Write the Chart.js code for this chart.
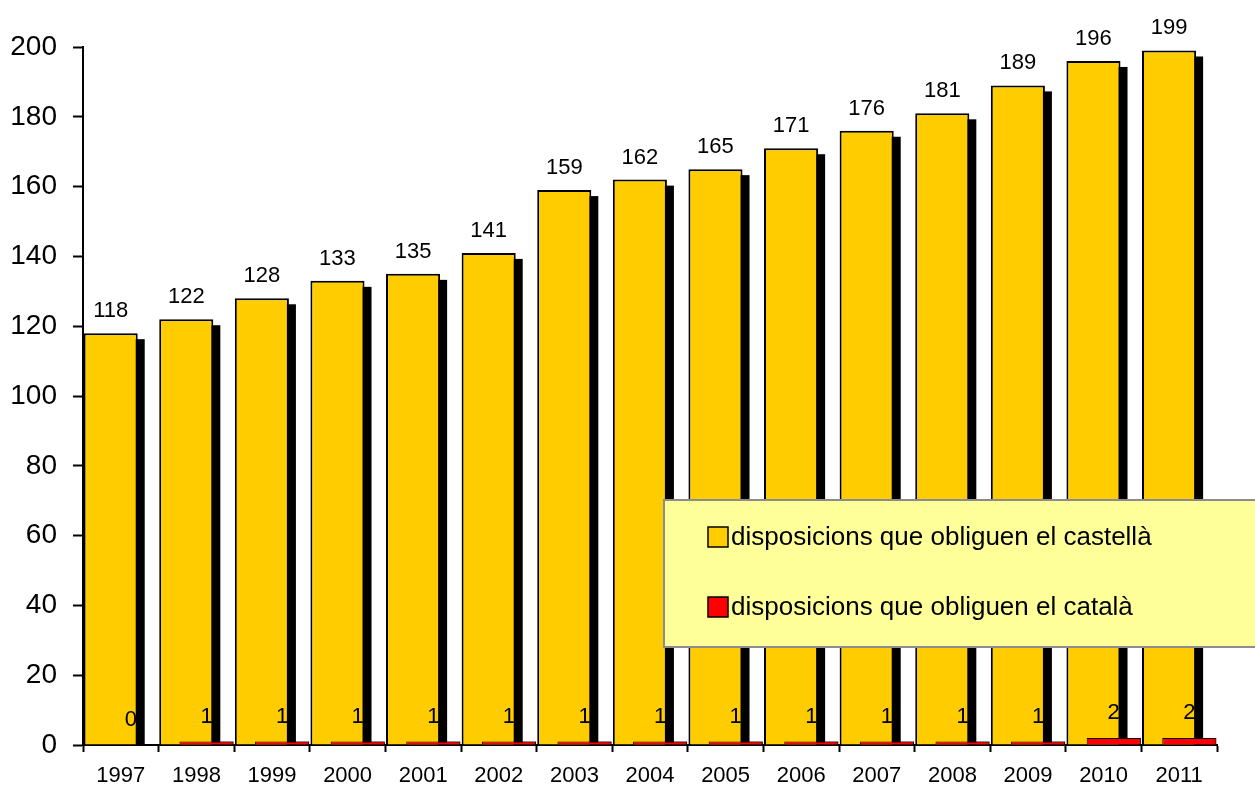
<!DOCTYPE html>
<html>
<head>
<meta charset="utf-8">
<script src="https://cdn.jsdelivr.net/npm/chart.js@4.4.0/dist/chart.umd.min.js"></script>
<style>
  html, body { margin: 0; padding: 0; background: #ffffff; }
  .wrap { width: 1255px; height: 787px; position: relative; }
</style>
</head>
<body>
<div class="wrap"><canvas id="myChart"></canvas></div>
<script>
const years = ["1997", "1998", "1999", "2000", "2001", "2002", "2003", "2004",
  "2005", "2006", "2007", "2008", "2009", "2010", "2011"];
const castellaValues = [118, 122, 128, 133, 135, 141, 159, 162, 165, 171, 176, 181, 189, 196, 199];
const catalaValues = [0, 1, 1, 1, 1, 1, 1, 1, 1, 1, 1, 1, 1, 2, 2];
const seriesNames = ["disposicions que obliguen el castellà", "disposicions que obliguen el català"];
const yTicks = [0, 20, 40, 60, 80, 100, 120, 140, 160, 180, 200];

const fontFamily = "'Liberation Sans', Arial, sans-serif";

// hard black drop shadow behind the yellow bars (bar elements clip themselves,
// so the shadow is painted from the element geometry before the dataset)
const shadowPlugin = {
    id: "barShadow",
    beforeDatasetDraw: (chart, args) => {
        if (args.index !== 0) return;
        const ctx = chart.ctx;
        ctx.save();
        ctx.fillStyle = "#000000";
        args.meta.data.forEach((bar) => {
            const left = bar.x - bar.width / 2 + 7;
            const top = bar.y + 6;
            ctx.fillRect(left, top, bar.width, bar.base - top);
        });
        ctx.restore();
    },
};

// red bars sit in front of the yellow ones, then the value labels
const labelPlugin = {
    id: "valueLabels",
    afterDatasetsDraw: (chart) => {
        const ctx = chart.ctx;
        chart.getDatasetMeta(1).controller.draw();

        ctx.save();
        ctx.font = "22px " + fontFamily;
        ctx.fillStyle = "#000000";
        ctx.textAlign = "center";
        ctx.textBaseline = "alphabetic";
        chart.data.datasets.forEach((ds, i) => {
            const meta = chart.getDatasetMeta(i);
            meta.data.forEach((bar, j) => {
                const off = i === 0 ? 16 : 19;
                ctx.fillText(String(ds.data[j]), bar.x, bar.y - off);
            });
        });
        ctx.restore();
    },
    afterDraw: (chart) => {
        const ctx = chart.ctx;
        ctx.save();
        ctx.fillStyle = "#FFFF99";
        ctx.fillRect(664, 500, 600, 147);
        ctx.strokeStyle = "#8c8c8c";
        ctx.lineWidth = 2;
        ctx.strokeRect(664, 500, 600, 147);

        ctx.font = "26px " + fontFamily;
        ctx.textBaseline = "middle";
        ctx.textAlign = "left";
        chart.data.datasets.forEach((ds, i) => {
            const top = 527 + i * 70;
            ctx.fillStyle = ds.backgroundColor;
            ctx.fillRect(708, top, 20, 20);
            ctx.strokeStyle = "#000000";
            ctx.lineWidth = 1.5;
            ctx.strokeRect(708, top, 20, 20);
            ctx.fillStyle = "#000000";
            ctx.fillText(ds.label, 731, top + 11);
        });
        ctx.restore();
    },
};

const ctx = document.getElementById("myChart").getContext("2d");
const myChart = new Chart(ctx, {
    type: "bar",
    data: {
        labels: years,
        datasets: [
            {
                label: seriesNames[0],
                data: castellaValues,
                backgroundColor: "#FFCC00",
                borderColor: "#000000",
                borderWidth: 2,
                categoryPercentage: 0.536,
                barPercentage: 2.67,
            },
            {
                label: seriesNames[1],
                data: catalaValues,
                backgroundColor: "#FF0000",
                borderColor: "#000000",
                borderWidth: 1,
                categoryPercentage: 0.536,
                barPercentage: 2.67,
            },
        ],
    },
    options: {
        responsive: true,
        maintainAspectRatio: false,
        animation: false,
        layout: { padding: { top: 47, right: 38, left: 0, bottom: 0 } },
        plugins: {
            legend: { display: false },
            tooltip: { enabled: false },
        },
        scales: {
            x: {
                offset: true,
                grid: {
                    offset: true,
                    drawOnChartArea: false,
                    tickLength: 7,
                    tickColor: "#000000",
                    tickWidth: 2,
                },
                border: { color: "#000000", width: 2 },
                ticks: {
                    color: "#000000",
                    font: { family: fontFamily, size: 22 },
                    padding: 11,
                    maxRotation: 0,
                    autoSkip: false,
                },
                afterFit: (scale) => { scale.height = 42; },
            },
            y: {
                min: 0,
                max: 200,
                afterBuildTicks: (scale) => {
                    scale.ticks = yTicks.map((v) => ({ value: v }));
                },
                grid: {
                    drawOnChartArea: false,
                    tickLength: 10,
                    tickColor: "#000000",
                    tickWidth: 2,
                },
                border: { color: "#000000", width: 2 },
                ticks: {
                    color: "#000000",
                    font: { family: fontFamily, size: 28 },
                    padding: 16,
                },
                afterFit: (scale) => { scale.width = 83; },
            },
        },
    },
    plugins: [shadowPlugin, labelPlugin],
});
</script>
</body>
</html>
